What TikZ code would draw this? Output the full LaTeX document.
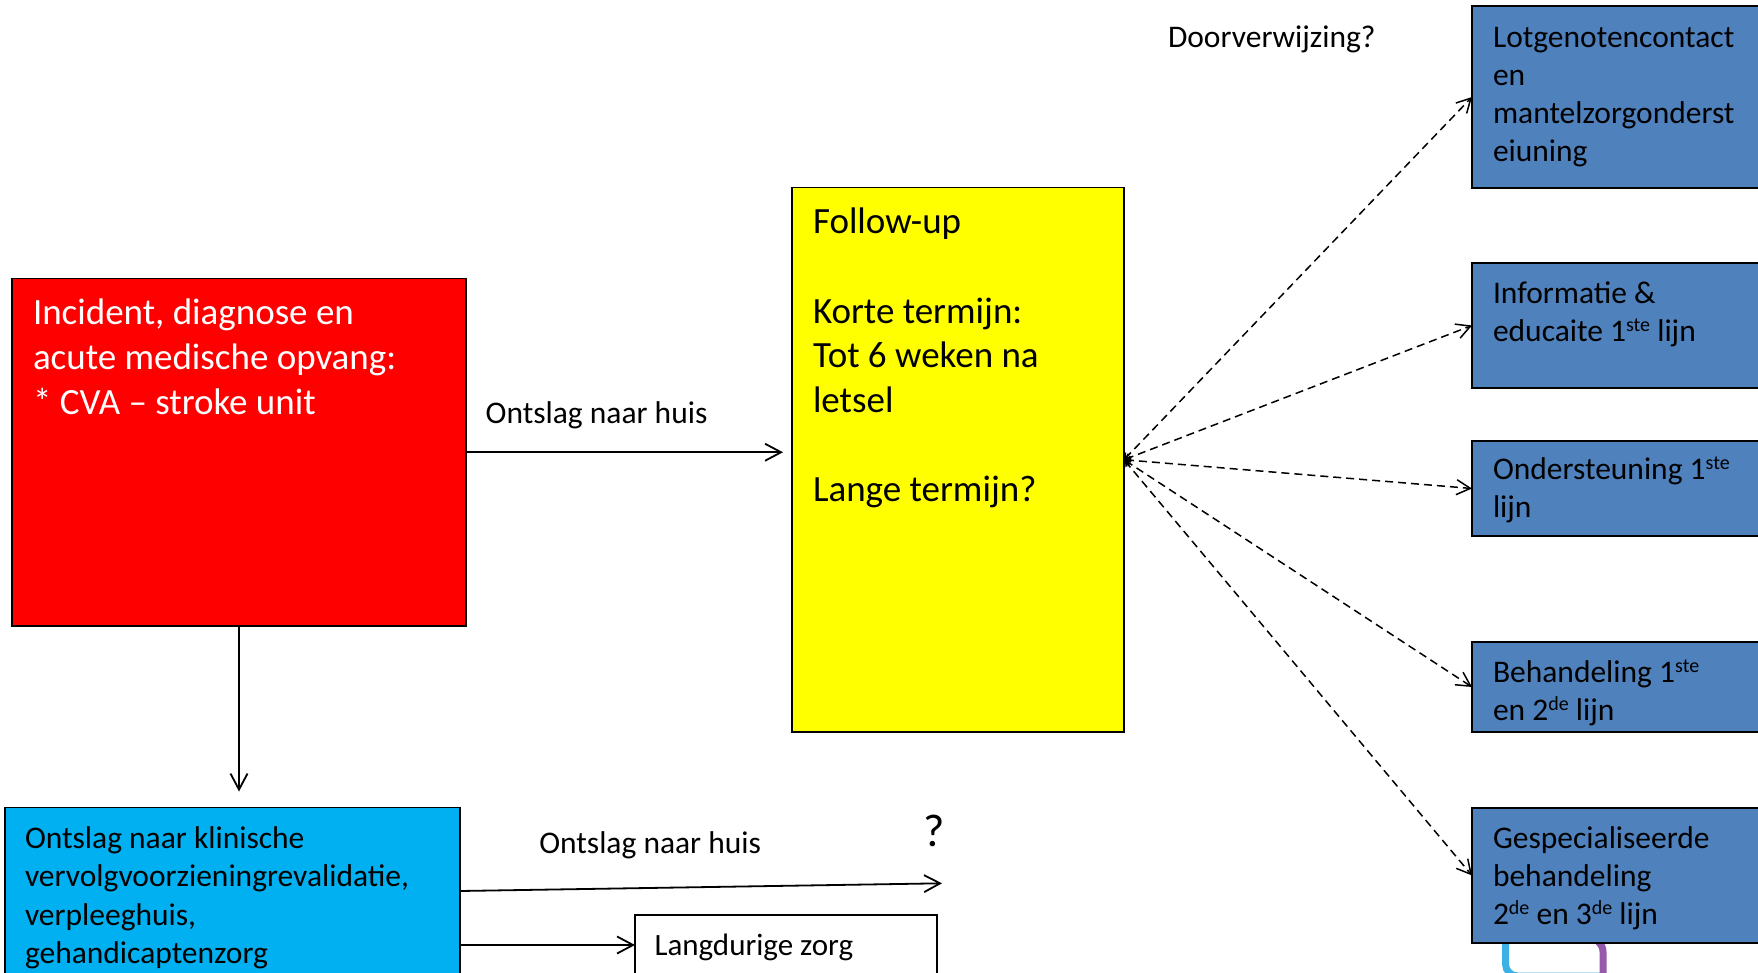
\documentclass[tikz,border=0pt]{standalone}
\usepackage{fontspec}
\setmainfont{Carlito}
\usetikzlibrary{arrows.meta}
\definecolor{redbox}{RGB}{255,0,0}
\definecolor{yelbox}{RGB}{255,255,0}
\definecolor{bluebox}{RGB}{79,129,189}
\definecolor{cyanbox}{RGB}{0,176,240}
\definecolor{cyanline}{RGB}{60,178,228}
\definecolor{purpline}{RGB}{150,90,170}
\newcommand\supx[1]{\raisebox{10pt}{\fontsize{20}{20}\selectfont #1}}
\begin{document}
\begin{tikzpicture}[x=1pt,y=-1pt,
 box/.style={draw=black, line width=1.3pt, anchor=north west, inner sep=0pt, outer sep=0pt},
 txt/.style={anchor=base west, inner sep=0pt, outer sep=0pt},
 big/.style={font=\fontsize{37}{44.7}\selectfont},
 mid/.style={font=\fontsize{31.5}{38}\selectfont},
 arr/.style={line width=1.8pt, -{Straight Barb[length=16pt,width=17pt]}},
 darr/.style={line width=1.5pt, dash pattern=on 8pt off 5pt, {Straight Barb[length=5pt,width=8pt]}-{Straight Barb[length=14pt,width=15pt]}}]
\path[use as bounding box] (0,0) rectangle (1758,973);
\clip (0,0) rectangle (1758,973);
\fill[white] (0,0) rectangle (1758,973);

% boxes
\node[box, fill=redbox, minimum width=454pt, minimum height=347.5pt] (red) at (12,278.5) {};
\node[box, fill=yelbox, minimum width=332pt, minimum height=544.5pt] (yel) at (792,187.5) {};
\node[box, fill=cyanbox, minimum width=455pt, minimum height=167pt] (cyan) at (5,807.5) {};
\node[box, fill=white, minimum width=302pt, minimum height=60pt] (lang) at (635,915) {};

% coloured lines under the last blue box
\draw[cyanline, line width=7pt, rounded corners=12pt] (1505.5,930) -- (1505.5,976) -- (1600,976);
\draw[purpline, line width=7pt, rounded corners=14pt] (1560,938) -- (1603,938) -- (1603,995);

\node[box, fill=bluebox, minimum width=310pt, minimum height=182pt] (b1) at (1472,6) {};
\node[box, fill=bluebox, minimum width=310pt, minimum height=125pt] (b2) at (1472,263) {};
\node[box, fill=bluebox, minimum width=310pt, minimum height=95pt] (b3) at (1472,441) {};
\node[box, fill=bluebox, minimum width=310pt, minimum height=90pt] (b4) at (1472,642) {};
\node[box, fill=bluebox, minimum width=310pt, minimum height=135pt] (b5) at (1472,808) {};

% texts
\node[txt, big, text=white] (tred) at (33,325) {\begin{tabular}[t]{@{}l@{}}Incident, diagnose en\\acute medische opvang:\\{}* CVA -- stroke unit\end{tabular}};
\node[txt, big] (tyel) at (813,233.7) {\begin{tabular}[t]{@{}l@{}}Follow-up\\ \\Korte termijn:\\Tot 6 weken na\\letsel\\ \\Lange termijn?\end{tabular}};
\node[txt, font=\fontsize{31.5}{38.5}\selectfont] (tcyan) at (25,848.2) {\begin{tabular}[t]{@{}l@{}}Ontslag naar klinische\\vervolgvoorzieningrevalidatie,\\verpleeghuis,\\gehandicaptenzorg\end{tabular}};
\node[txt, mid] (tb1) at (1493,47.4) {\begin{tabular}[t]{@{}l@{}}Lotgenotencontact\\en\\mantelzorgonderst\\eiuning\end{tabular}};
\node[txt, mid] (tb2) at (1493,303.5) {\begin{tabular}[t]{@{}l@{}}Informatie \&\\educaite 1\supx{ste} lijn\end{tabular}};
\node[txt, mid] (tb3) at (1493,479.5) {\begin{tabular}[t]{@{}l@{}}Ondersteuning 1\supx{ste}\\lijn\end{tabular}};
\node[txt, mid] (tb4) at (1493,682.2) {\begin{tabular}[t]{@{}l@{}}Behandeling 1\supx{ste}\\en 2\supx{de} lijn\end{tabular}};
\node[txt, mid] (tb5) at (1493,848.8) {\begin{tabular}[t]{@{}l@{}}Gespecialiseerde\\behandeling\\2\supx{de} en 3\supx{de} lijn\end{tabular}};

\node[txt, mid] (l1) at (485.7,423.7) {Ontslag naar huis};
\node[txt, mid] (l2) at (539.3,853.7) {Ontslag naar huis};
\node[txt, mid] (door) at (1168,47.8) {Doorverwijzing?};
\node[txt, font=\fontsize{31}{38}\selectfont] (tlang) at (654.5,955) {Langdurige zorg};
\node[txt, font=\fontsize{46}{55}\selectfont] (q) at (923,846) {?};

% connectors
\draw[arr, shorten >=9pt] (red.east) -- (red.east -| yel.west);
\draw[arr, shorten >=16pt] (red.south) -- (red.south |- cyan.north);
\coordinate (qend) at (942,883.3);
\draw[arr] (cyan.east) -- (qend);
\draw[arr] (cyan.east |- lang.west) -- (lang.west);
\draw[darr] (yel.east) -- (b1.west);
\draw[darr] (yel.east) -- (b2.west);
\draw[darr] (yel.east) -- (b3.west);
\draw[darr] (yel.east) -- (b4.west);
\draw[darr] (yel.east) -- (b5.west);
\end{tikzpicture}
\end{document}
